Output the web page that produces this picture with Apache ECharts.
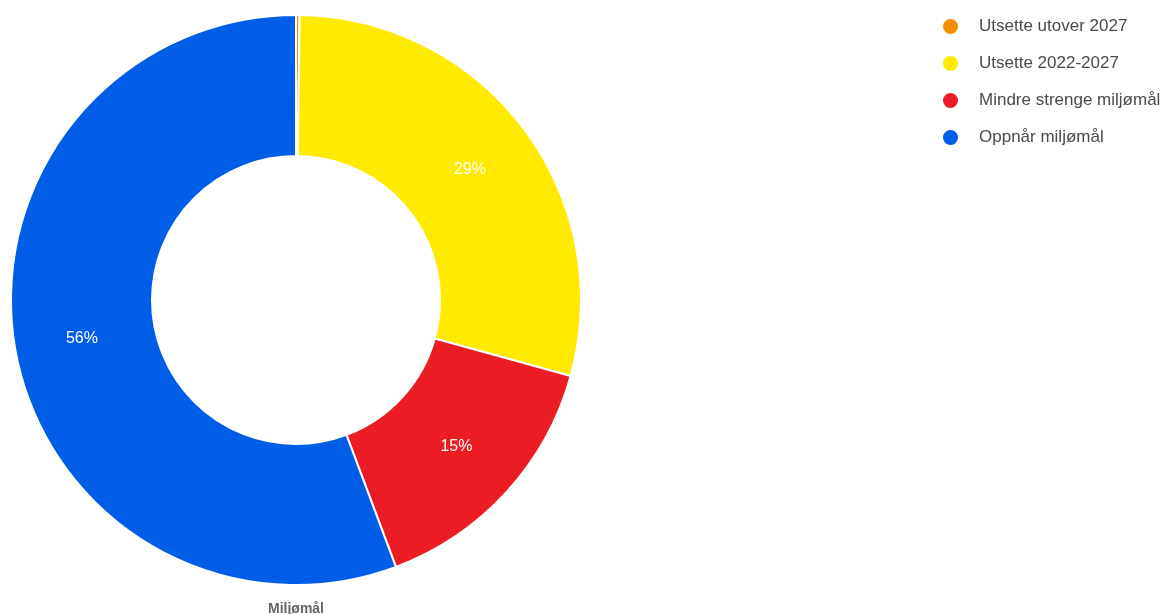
<!DOCTYPE html>
<html>
<head>
<meta charset="utf-8">
<script src="https://cdn.jsdelivr.net/npm/echarts@6/dist/echarts.min.js"></script>
<style>
  html, body { margin: 0; padding: 0; background: #ffffff; }
  #chart { width: 1164px; height: 614px; }
</style>
</head>
<body>
<div id="chart"></div>
<script>
// Share of water bodies by environmental objective status (percent)
const categories = ['Utsette utover 2027', 'Utsette 2022-2027', 'Mindre strenge miljømål', 'Oppnår miljømål'];
const values = [0.2, 29.1, 15.0, 55.7];
const colors = ['#F28E00', '#FFEA00', '#EC1C24', '#005DE8'];
const chartTitle = 'Miljømål';

const chart = echarts.init(document.getElementById('chart'));
chart.setOption({
  animation: false,
  color: colors,
  title: {
    text: chartTitle,
    left: 291,
    top: 597,
    textAlign: 'center',
    textStyle: { fontFamily: 'Arial, Liberation Sans', fontSize: 14, fontWeight: 'bold', color: '#666666' }
  },
  legend: {
    orient: 'vertical',
    left: 936,
    top: 12,
    icon: 'circle',
    itemWidth: 17,
    itemHeight: 17,
    itemGap: 18,
    textStyle: { fontFamily: 'Liberation Sans, Arial', fontSize: 17, lineHeight: 17, color: '#4a4a4a', padding: [0, 0, 0, 15] },
    data: categories
  },
  series: [{
    type: 'pie',
    center: [296, 300],
    radius: [144, 285],
    startAngle: 90,
    clockwise: true,
    avoidLabelOverlap: false,
    itemStyle: { borderColor: '#ffffff', borderWidth: 2 },
    label: {
      show: true,
      position: 'inside',
      color: '#ffffff',
      fontFamily: 'Arial, Liberation Sans',
      fontSize: 16,
      formatter: function (p) { return p.percent < 1 ? '' : Math.round(p.percent) + '%'; }
    },
    labelLine: { show: false },
    emphasis: { disabled: true },
    data: categories.map(function (name, i) { return { name: name, value: values[i] }; })
  }]
});
</script>
</body>
</html>
